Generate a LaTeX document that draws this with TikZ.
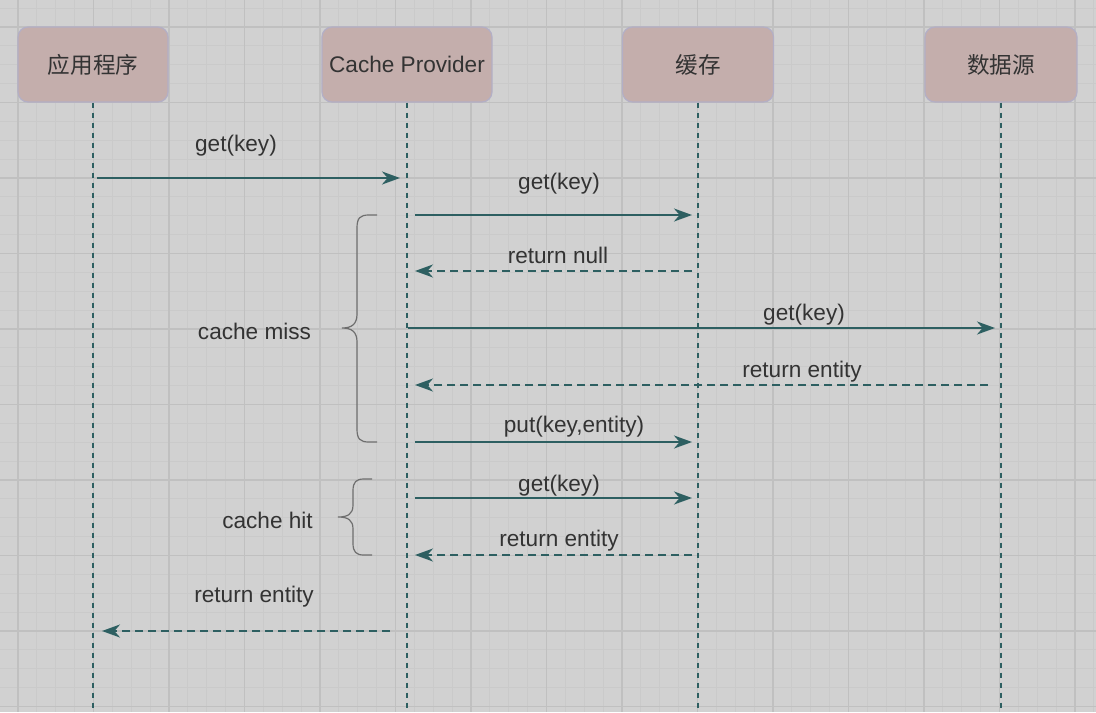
\documentclass[tikz,border=0pt]{standalone}
\usepackage{fontspec}
\setmainfont{Liberation Sans}
\newfontfamily\cjk{Noto Sans CJK SC}
\usepackage{tikz}
\usetikzlibrary{arrows.meta}
\definecolor{bgcol}{HTML}{D1D1D1}
\definecolor{minorcol}{HTML}{CACACA}
\definecolor{majorcol}{HTML}{C0C0C0}
\definecolor{boxfill}{HTML}{C4AEAC}
\definecolor{boxline}{HTML}{B3AFC6}
\definecolor{seqcol}{HTML}{2D5F61}
\definecolor{txtcol}{HTML}{333333}
\definecolor{bracecol}{HTML}{6E6E6E}

\begin{document}
\begin{tikzpicture}[x=0.5pt,y=-0.5pt,
    every node/.style={text=txtcol,font=\fontsize{11.3}{13}\selectfont},
    actor/.style={draw=boxline,fill=boxfill,rounded corners=5pt,
      minimum height=37.5pt,inner sep=0pt,line width=0.6pt},
    lifeline/.style={seqcol,line width=0.9pt,dash pattern=on 2.5pt off 2.5pt},
    call/.style={seqcol,line width=1pt,-{Stealth[length=9pt,width=6.5pt,inset=2.8pt]}},
    reply/.style={call,dash pattern=on 4pt off 2.5pt},
    msglabel/.style={anchor=base},
    brace/.style={bracecol,line width=0.6pt}]
    \useasboundingbox (0,0) rectangle (1096,712);
    \fill[bgcol] (0,0) rectangle (1096,712);
    \foreach \i in {0,...,58}
      \draw[minorcol,line width=0.6pt] ({\i*18.875-0.875},0) -- ({\i*18.875-0.875},712);
    \foreach \i in {0,...,37}
      \draw[minorcol,line width=0.6pt] (0,{\i*18.875+8.125}) -- (1096,{\i*18.875+8.125});
    \foreach \i in {0,...,14}
      \draw[majorcol,line width=0.8pt] ({\i*75.5+18},0) -- ({\i*75.5+18},712);
    \foreach \i in {0,...,9}
      \draw[majorcol,line width=0.8pt] (0,{\i*75.5+27}) -- (1096,{\i*75.5+27});

    \node[actor,minimum width=75pt] (app) at (93,64.5) {\cjk 应用程序};
    \node[actor,minimum width=85pt] (prov) at (407,64.5) {Cache Provider};
    \node[actor,minimum width=75.5pt] (cache) at (698,64.5) {\cjk 缓存};
    \node[actor,minimum width=76pt] (db) at (1001,64.5) {\cjk 数据源};

    \coordinate (bot) at (0,712);
    \draw[lifeline] (app.south) -- (app.south |- bot);
    \draw[lifeline] (prov.south) -- (prov.south |- bot);
    \draw[lifeline] (cache.south) -- (cache.south |- bot);
    \draw[lifeline] (db.south) -- (db.south |- bot);

    \coordinate (m1) at (0,178);
    \coordinate (m2) at (0,215);
    \coordinate (m3) at (0,271);
    \coordinate (m4) at (0,328);
    \coordinate (m5) at (0,385);
    \coordinate (m6) at (0,442);
    \coordinate (m7) at (0,498);
    \coordinate (m8) at (0,555);
    \coordinate (m9) at (0,631);

    \draw[call,shorten <=2pt,shorten >=3.5pt] (app |- m1) -- (prov |- m1);
    \draw[call,shorten <=4pt,shorten >=3pt] (prov |- m2) -- (cache |- m2);
    \draw[reply,shorten <=3pt,shorten >=4pt] (cache |- m3) -- (prov |- m3);
    \draw[call,shorten <=0.5pt,shorten >=3pt] (prov |- m4) -- (db |- m4);
    \draw[reply,shorten <=6.5pt,shorten >=4pt] (db |- m5) -- (prov |- m5);
    \draw[call,shorten <=4pt,shorten >=3pt] (prov |- m6) -- (cache |- m6);
    \draw[call,shorten <=4pt,shorten >=3pt] (prov |- m7) -- (cache |- m7);
    \draw[reply,shorten <=3pt,shorten >=4pt] (cache |- m8) -- (prov |- m8);
    \draw[reply,shorten <=8.5pt,shorten >=4.5pt] (prov |- m9) -- (app |- m9);

    \node[msglabel] (l1) at (236,151) {get(key)};
    \node[msglabel] (l2) at (559,189) {get(key)};
    \node[msglabel] (l3) at (558,263) {return null};
    \node[msglabel] (l4) at (804,320) {get(key)};
    \node[msglabel] (l5) at (802,377) {return entity};
    \node[msglabel] (l6) at (574,432) {put(key,entity)};
    \node[msglabel] (l7) at (559,491) {get(key)};
    \node[msglabel] (l8) at (559,546) {return entity};
    \node[msglabel] (l9) at (254,602) {return entity};

    \draw[brace] (377,215) -- (369,215) .. controls (360,215) and (357,218) .. (357,228)
      -- (357,314) .. controls (357,324) and (352,328) .. (342,328)
      .. controls (352,328) and (357,332) .. (357,342)
      -- (357,429) .. controls (357,439) and (360,442) .. (369,442) -- (377,442);
    \node[msglabel] (miss) at (254.5,339) {cache miss};
    \draw[brace] (372,479) -- (364,479) .. controls (356,479) and (353,482) .. (353,491)
      -- (353,505) .. controls (353,514) and (348,517) .. (338,517)
      .. controls (348,517) and (353,520) .. (353,529)
      -- (353,543) .. controls (353,552) and (356,555) .. (364,555) -- (372,555);
    \node[msglabel] (hit) at (267.5,528) {cache hit};
  \end{tikzpicture}
\end{document}
